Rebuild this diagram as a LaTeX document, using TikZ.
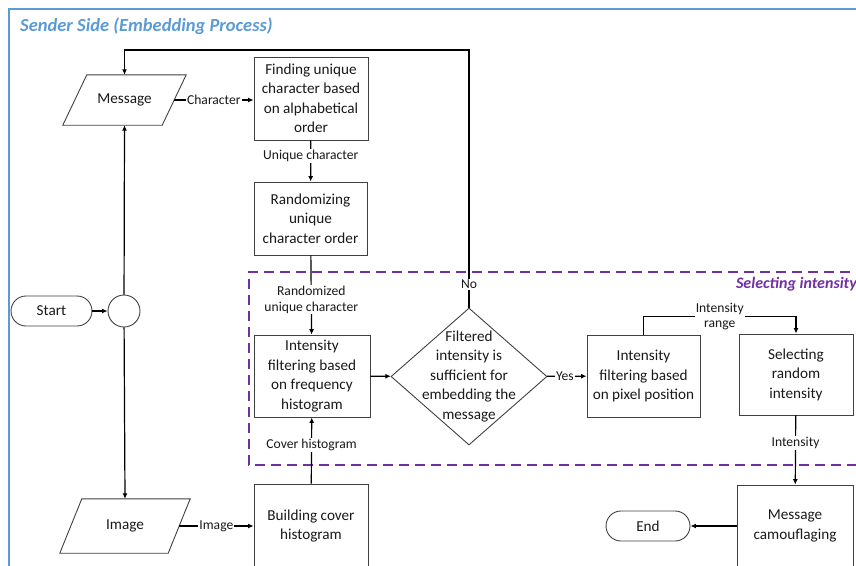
\documentclass[tikz,border=0pt]{standalone}
\usepackage{fontspec}
\setmainfont{Carlito}
\usetikzlibrary{shapes.geometric,arrows.meta,calc}

\definecolor{frameblue}{RGB}{91,155,213}
\definecolor{zonepurple}{RGB}{112,48,160}
\definecolor{inkgray}{RGB}{64,64,64}

\begin{document}
\begin{tikzpicture}[x=1pt,y=-1pt,
  every node/.style={font=\fontsize{15.2}{19.5}\selectfont, text=black!90},
  proc/.style={draw=inkgray, line width=0.9pt, align=center, inner sep=0pt},
  ioshape/.style={draw=none, align=center, inner sep=0pt},
  term/.style={draw=inkgray, line width=0.9pt, rounded corners=15pt, inner sep=0pt, minimum height=30pt},
  junction/.style={draw=inkgray, line width=0.9pt, circle, inner sep=0pt, minimum size=32pt},
  decision/.style={draw=inkgray, line width=0.9pt, diamond, inner sep=0pt},
  lbl/.style={fill=white, inner sep=1pt, align=center, font=\fontsize{13.6}{15.5}\selectfont},
  outline/.style={draw=inkgray, line width=0.9pt},
  conn/.style={draw=black, line width=1.2pt, -{Latex[length=5.5pt,width=5pt]}},
  title/.style={font=\fontsize{18.5}{22}\selectfont\bfseries\itshape, text=frameblue, anchor=west, inner sep=0pt},
  zonetitle/.style={font=\fontsize{16}{19}\selectfont\bfseries\itshape, text=zonepurple, anchor=east, inner sep=0pt}
]
\useasboundingbox (0,0) rectangle (856,565);
\clip (0,0) rectangle (856,565);

% outer frame of the sender side
\draw[frameblue, line width=1.4pt] (9,575) -- (9,9) -- (866,9);
\node[title] (sendertitle) at (20,26) {Sender Side (Embedding Process)};

% dashed zone for the intensity selection
\draw[zonepurple, line width=1.4pt, dash pattern=on 10pt off 6pt] (866,272) -- (249,272) -- (249,465) -- (866,465);
\node[zonetitle] (zonetitle) at (857,284) {Selecting intensity};

% inputs
\node[ioshape, minimum width=99pt, minimum height=50pt] (msg) at (124.5,100) {Message};
\draw[outline] ($(msg.north west)+(12,0)$) -- ($(msg.north east)+(12,0)$)
  -- ($(msg.south east)+(-12,0)$) -- ($(msg.south west)+(-12,0)$) -- cycle;
\node[ioshape, minimum width=108pt, minimum height=54pt] (img) at (125,526) {Image};
\draw[outline] ($(img.north west)+(11,0)$) -- ($(img.north east)+(11,0)$)
  -- ($(img.south east)+(-11,0)$) -- ($(img.south west)+(-11,0)$) -- cycle;

% terminals and junction
\node[term, minimum width=81pt] (start) at (51.5,311) {Start};
\node[junction] (junc) at (124,311) {};
\node[term, minimum width=84pt] (finish) at (648,526) {End};

% process steps
\node[proc, minimum width=114pt, minimum height=83pt] (find) at (311,98.5)
  {Finding unique\\character based\\on alphabetical\\order};
\node[proc, minimum width=113pt, minimum height=73pt] (rand) at (310.5,218.5)
  {Randomizing\\unique\\character order};
\node[proc, minimum width=116pt, minimum height=82pt] (freq) at (312,376)
  {Intensity\\filtering based\\on frequency\\histogram};
\node[decision, minimum width=156pt, minimum height=137pt] (dia) at (469,376.5) {};
\node[align=center, inner sep=0pt] (diatext) at (dia.center)
  {Filtered\\intensity is\\sufficient for\\embedding the\\message};
\node[proc, minimum width=113pt, minimum height=82pt] (pix) at (643.5,376)
  {Intensity\\filtering based\\on pixel position};
\node[proc, minimum width=114pt, minimum height=81pt] (randint) at (796,374.5)
  {Selecting\\random\\intensity};
\node[proc, minimum width=114pt, minimum height=84pt] (build) at (311,526)
  {Building cover\\histogram};
\node[proc, minimum width=116pt, minimum height=82pt] (camo) at (795,526)
  {Message\\camouflaging};

\coordinate (looptop) at (0,50);

% connectors
\draw[conn] (start) -- (junc);
\draw[conn] (junc) -- (msg.south);
\draw[conn] (junc) -- (img.north);
\draw[conn] (msg.east) -- node[lbl, midway] {Character} (find.west |- msg.east);
\draw[conn] (find) -- node[lbl, pos=0.38] {Unique character} (rand);
\draw[conn] (rand) -- node[lbl, pos=0.56] {Randomized\\unique character} (freq);
\draw[conn] (img.east) -- node[lbl, midway] {Image} (build.west |- img.east);
\draw[conn] (build) -- node[lbl, pos=0.58] {Cover histogram} (freq);
\draw[conn] (freq) -- (dia);
\draw[conn] (dia) -- node[lbl, pos=0.45] {Yes} (pix);
\draw[conn] (dia.north) -- node[lbl, pos=0.09] {No} (dia.north |- looptop)
  -- (msg.north |- looptop) -- (msg.north);
\draw[conn] (pix.north) -- ++(0,-18) coordinate (rangebend) -| (randint.north);
\node[lbl] (rangetext) at ($(rangebend)!0.5!(rangebend -| randint.north)$) {Intensity\\range};
\draw[conn] (randint) -- node[lbl, pos=0.4] {Intensity} (camo);
\draw[conn] (camo) -- (finish);
\end{tikzpicture}
\end{document}
